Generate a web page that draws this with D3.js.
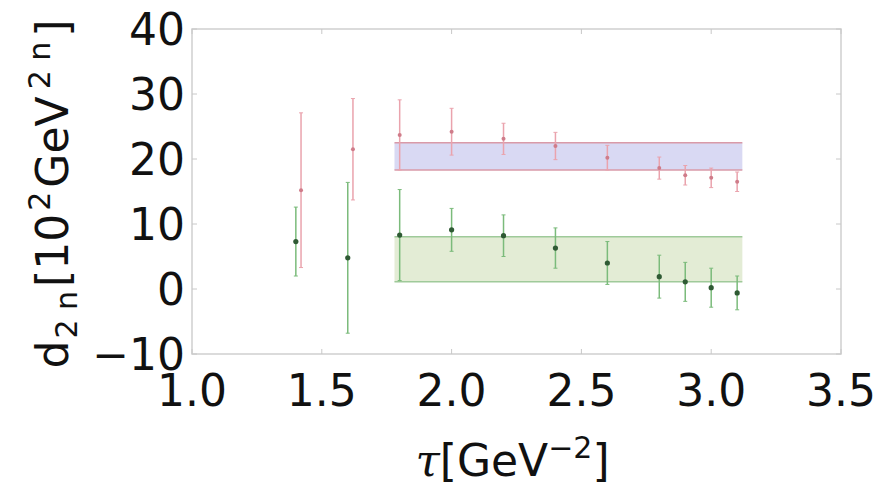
<!DOCTYPE html>
<html>
<head>
<meta charset="utf-8">
<script src="https://cdn.jsdelivr.net/npm/d3@7"></script>
<style>
  html, body { margin: 0; padding: 0; background: #fff; }
  svg { display: block; font-family: "DejaVu Sans", sans-serif; }
</style>
</head>
<body>
<svg id="chart" width="888" height="485"></svg>
<script>
/* ---------- data ---------- */
const xTicks = [1.0, 1.5, 2.0, 2.5, 3.0, 3.5];
const yTicks = [-10, 0, 10, 20, 30, 40];

const redTau = [1.42, 1.62, 1.8, 2.0, 2.2, 2.4, 2.6, 2.8, 2.9, 3.0, 3.1];
const redVal = [15.2, 21.5, 23.7, 24.2, 23.1, 22.0, 20.2, 18.6, 17.5, 17.1, 16.5];
const redErr = [11.9, 7.8, 5.4, 3.6, 2.4, 2.1, 1.9, 1.7, 1.5, 1.5, 1.5];

const greenTau = [1.4, 1.6, 1.8, 2.0, 2.2, 2.4, 2.6, 2.8, 2.9, 3.0, 3.1];
const greenVal = [7.3, 4.8, 8.3, 9.1, 8.2, 6.3, 4.0, 1.9, 1.1, 0.2, -0.6];
const greenErr = [5.3, 11.6, 7.0, 3.3, 3.2, 3.1, 3.3, 3.3, 3.0, 3.0, 2.6];

const bandTau = [1.78, 3.12];
const purpleBand = [18.3, 22.5];
const greenBand = [1.1, 8.05];

/* ---------- layout ---------- */
const margin = { top: 29, right: 47, bottom: 131, left: 192 };
const W = 888, H = 485;
const w = W - margin.left - margin.right;
const h = H - margin.top - margin.bottom;

const svg = d3.select("#chart");
const g = svg.append("g").attr("transform", `translate(${margin.left},${margin.top})`);

const x = d3.scaleLinear().domain([1.0, 3.5]).range([0, w]);
const y = d3.scaleLinear().domain([-10, 40]).range([h, 0]);

/* bands */
function band(lims, fill, edge) {
  g.append("rect")
    .attr("x", x(bandTau[0]))
    .attr("width", x(bandTau[1]) - x(bandTau[0]))
    .attr("y", y(lims[1]))
    .attr("height", y(lims[0]) - y(lims[1]))
    .attr("fill", fill);
  g.selectAll(null)
    .data(lims)
    .join("line")
    .attr("x1", x(bandTau[0]))
    .attr("x2", x(bandTau[1]))
    .attr("y1", (d) => y(d))
    .attr("y2", (d) => y(d))
    .attr("stroke", edge)
    .attr("stroke-width", 1.5);
}
band(purpleBand, "#d9d9f3", "#d99aa8");
band(greenBand, "#e3ecd5", "#9fca9a");

/* error bars */
function series(taus, vals, errs, barColor, dotColor, r) {
  const pts = taus.map((t, i) => ({ t, v: vals[i], e: errs[i] }));
  const s = g.append("g");
  s.selectAll("line.bar")
    .data(pts)
    .join("line")
    .attr("class", "bar")
    .attr("x1", (d) => x(d.t))
    .attr("x2", (d) => x(d.t))
    .attr("y1", (d) => y(d.v + d.e))
    .attr("y2", (d) => y(d.v - d.e))
    .attr("stroke", barColor)
    .attr("stroke-width", 1.5);
  ["top", "bot"].forEach((k) => {
    s.selectAll("line.cap" + k)
      .data(pts)
      .join("line")
      .attr("class", "cap" + k)
      .attr("x1", (d) => x(d.t) - 2)
      .attr("x2", (d) => x(d.t) + 2)
      .attr("y1", (d) => y(k === "top" ? d.v + d.e : d.v - d.e))
      .attr("y2", (d) => y(k === "top" ? d.v + d.e : d.v - d.e))
      .attr("stroke", barColor)
      .attr("stroke-width", 1);
  });
  s.selectAll("circle")
    .data(pts)
    .join("circle")
    .attr("cx", (d) => x(d.t))
    .attr("cy", (d) => y(d.v))
    .attr("r", r)
    .attr("fill", dotColor);
}
series(redTau, redVal, redErr, "#eaa3ad", "#cf7c8a", 2);
series(greenTau, greenVal, greenErr, "#7bbb7b", "#2f5a34", 2.6);

/* frame + ticks */
g.append("rect")
  .attr("width", w)
  .attr("height", h)
  .attr("fill", "none")
  .attr("stroke", "#cfcfcf")
  .attr("stroke-width", 1.5);

const tickCol = "#c8c8c8";
g.selectAll("line.xt")
  .data(xTicks)
  .join("line")
  .attr("class", "xt")
  .attr("x1", (d) => x(d)).attr("x2", (d) => x(d))
  .attr("y1", h).attr("y2", h - 5)
  .attr("stroke", tickCol);
g.selectAll("line.xt2")
  .data(xTicks)
  .join("line")
  .attr("class", "xt2")
  .attr("x1", (d) => x(d)).attr("x2", (d) => x(d))
  .attr("y1", 0).attr("y2", 5)
  .attr("stroke", tickCol);
g.selectAll("line.yt")
  .data(yTicks)
  .join("line")
  .attr("class", "yt")
  .attr("x1", 0).attr("x2", 5)
  .attr("y1", (d) => y(d)).attr("y2", (d) => y(d))
  .attr("stroke", tickCol);
g.selectAll("line.yt2")
  .data(yTicks)
  .join("line")
  .attr("class", "yt2")
  .attr("x1", w).attr("x2", w - 5)
  .attr("y1", (d) => y(d)).attr("y2", (d) => y(d))
  .attr("stroke", tickCol);

/* tick labels */
const fs = 44;
g.selectAll("text.xl")
  .data(xTicks)
  .join("text")
  .attr("class", "xl")
  .attr("x", (d) => x(d))
  .attr("y", h + 52)
  .attr("text-anchor", "middle")
  .style("font-size", fs + "px")
  .attr("fill", "#111")
  .text((d) => d.toFixed(1));

g.selectAll("text.yl")
  .data(yTicks)
  .join("text")
  .attr("class", "yl")
  .attr("x", -7)
  .attr("y", (d) => y(d) + 16)
  .attr("text-anchor", "end")
  .style("font-size", fs + "px")
  .attr("fill", "#111")
  .text((d) => (d < 0 ? "\u2212" + Math.abs(d) : d));

/* axis titles */
const xt = svg.append("text")
  .attr("x", margin.left + w / 2 - 4)
  .attr("y", 476)
  .attr("text-anchor", "middle")
  .style("font-size", fs + "px")
  .attr("fill", "#111");
xt.append("tspan").style("font-family", "'DejaVu Serif', serif").style("font-style", "italic").text("\u03c4");
xt.append("tspan").text("[GeV");
xt.append("tspan").attr("dy", -18).style("font-size", "30px").text("\u22122");
xt.append("tspan").attr("dy", 18).text("]");

// y title: mathtext-like spacing, so pieces get small gaps
const yt = svg.append("text")
  .attr("transform", `translate(68,194) rotate(-90)`)
  .attr("text-anchor", "middle")
  .style("font-size", fs + "px")
  .attr("fill", "#111");
yt.append("tspan").text("d");
yt.append("tspan").attr("dy", 9).attr("dx", 2).style("font-size", "30px").text("2\u00a0n");
yt.append("tspan").attr("dy", -9).attr("dx", 4).text("[10");
yt.append("tspan").attr("dy", -18).attr("dx", 3).style("font-size", "30px").text("2");
yt.append("tspan").attr("dy", 18).attr("dx", 4).text("GeV");
yt.append("tspan").attr("dy", -18).attr("dx", 7).style("font-size", "30px").text("2\u00a0n");
yt.append("tspan").attr("dy", 18).attr("dx", 5).text("]");
</script>
</body>
</html>
